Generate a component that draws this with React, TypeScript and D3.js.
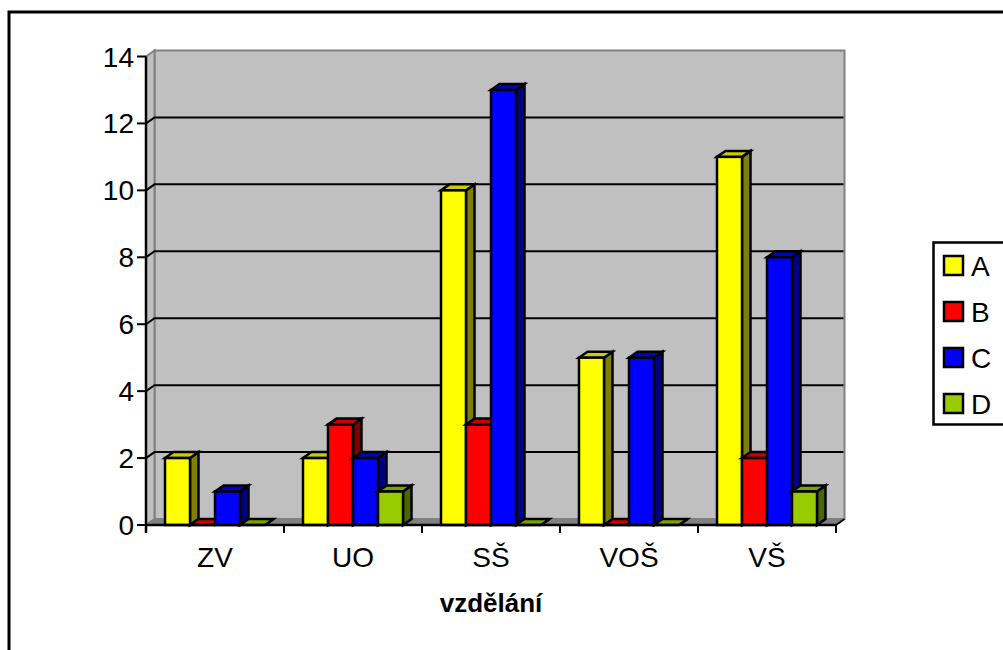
import React from "react";
import * as d3 from "d3";

const categories = ["ZV", "UO", "SŠ", "VOŠ", "VŠ"];
const seriesNames = ["A", "B", "C", "D"];
const valuesA = [2, 2, 10, 5, 11];
const valuesB = [0, 3, 3, 0, 2];
const valuesC = [1, 2, 13, 5, 8];
const valuesD = [0, 1, 0, 0, 1];
const yTicks = [0, 2, 4, 6, 8, 10, 12, 14];
const frontColors = ["#FFFF00", "#FF0000", "#0000FF", "#99CC00"];
const topColors = ["#CCCC00", "#CC0000", "#0000CC", "#7AA300"];
const sideColors = ["#808000", "#800000", "#000080", "#4D6600"];

const allSeries = [valuesA, valuesB, valuesC, valuesD];
const FONT = "'Liberation Sans', Arial, sans-serif";
const dx = 8.5;
const dy = 6;

export default function App() {
  const x = d3.scaleBand<string>().domain(categories).range([146, 836]).paddingInner(0).paddingOuter(0);
  const y = d3.scaleLinear().domain([0, 14]).range([525, 56.5]);
  const barW = 25;
  const barX = d3
    .scaleBand<number>()
    .domain([0, 1, 2, 3])
    .range([0, barW * 4]);
  const x0 = 146;
  const x1 = 836;
  const y0 = y(0);
  const yT = y(14);
  return (
    <svg
      width={1003}
      height={650}
      style={{ position: "absolute", left: 0, top: 0, display: "block" }}
      fontFamily={FONT}
    >
      <rect x={0} y={0} width={1003} height={650} fill="#fff" />
      <rect x={9} y={12} width={1100} height={800} fill="#fff" stroke="#000" strokeWidth={3} />

      {/* walls */}
      <polygon
        points={`${x0 + dx},${yT - dy} ${x1 + dx},${yT - dy} ${x1 + dx},${y0 - dy} ${x0 + dx},${y0 - dy}`}
        fill="#C0C0C0"
        stroke="#808080"
        strokeWidth={2}
      />
      <polygon
        points={`${x0},${yT} ${x0 + dx},${yT - dy} ${x0 + dx},${y0 - dy} ${x0},${y0}`}
        fill="#C0C0C0"
        stroke="#808080"
        strokeWidth={2}
      />
      <polygon
        points={`${x0},${y0} ${x0 + dx},${y0 - dy} ${x1 + dx},${y0 - dy} ${x1},${y0}`}
        fill="#808080"
        stroke="#808080"
        strokeWidth={1}
      />

      {/* gridlines */}
      {yTicks
        .filter((t) => t > 0 && t < 14)
        .map((t) => (
          <polyline
            key={t}
            points={`${x0},${y(t)} ${x0 + dx},${y(t) - dy} ${x1 + dx - 1},${y(t) - dy}`}
            fill="none"
            stroke="#000"
            strokeWidth={2}
          />
        ))}

      {/* bars */}
      {categories.map((c, ci) => {
        const gx = x(c)! + (x.bandwidth() - barW * 4) / 2;
        return allSeries.map((vals, si) => {
          const l = gx + barX(si)!;
          const r = l + barW;
          const t = y(vals[ci]);
          return (
            <g key={c + si} stroke="#000" strokeWidth={2.5} strokeLinejoin="miter">
              <polygon
                points={`${r},${t} ${r + dx},${t - dy} ${r + dx},${y0 - dy} ${r},${y0}`}
                fill={sideColors[si]}
              />
              <polygon
                points={`${l},${t} ${l + dx},${t - dy} ${r + dx},${t - dy} ${r},${t}`}
                fill={topColors[si]}
              />
              {vals[ci] > 0 && <rect x={l} y={t} width={barW} height={y0 - t} fill={frontColors[si]} />}
            </g>
          );
        });
      })}

      {/* axes */}
      <line x1={x0} x2={x0} y1={yT} y2={y0 + 8} stroke="#000" strokeWidth={2.5} />
      <line x1={x0 - 1} x2={x1} y1={y0} y2={y0} stroke="#000" strokeWidth={2.5} />
      <line x1={x1} x2={x1 + dx} y1={y0} y2={y0 - dy} stroke="#000" strokeWidth={2} />
      {yTicks.map((t) => (
        <g key={t}>
          <line x1={x0 - 9} x2={x0} y1={y(t)} y2={y(t)} stroke="#000" strokeWidth={2} />
          <text x={x0 - 12} y={y(t) + 10} textAnchor="end" fontSize={28} fill="#000">
            {t}
          </text>
        </g>
      ))}
      {categories.map((c) => (
        <g key={c}>
          <line
            x1={x(c)! + x.bandwidth()}
            x2={x(c)! + x.bandwidth()}
            y1={y0}
            y2={y0 + 8}
            stroke="#000"
            strokeWidth={2}
          />
          <text x={x(c)! + x.bandwidth() / 2} y={567} textAnchor="middle" fontSize={28} fill="#000">
            {c}
          </text>
        </g>
      ))}
      <text x={491} y={612} textAnchor="middle" fontSize={26} fontWeight="bold" fill="#000">
        vzdělání
      </text>

      {/* legend */}
      <rect x={933.5} y={242.5} width={100} height={182} fill="#fff" stroke="#000" strokeWidth={2.5} />
      {seriesNames.map((s, i) => (
        <g key={s}>
          <rect
            x={944}
            y={256 + i * 46}
            width={19}
            height={19}
            fill={frontColors[i]}
            stroke="#000"
            strokeWidth={2.5}
          />
          <text x={971} y={276 + i * 46} fontSize={28} fill="#000">
            {s}
          </text>
        </g>
      ))}
    </svg>
  );
}
